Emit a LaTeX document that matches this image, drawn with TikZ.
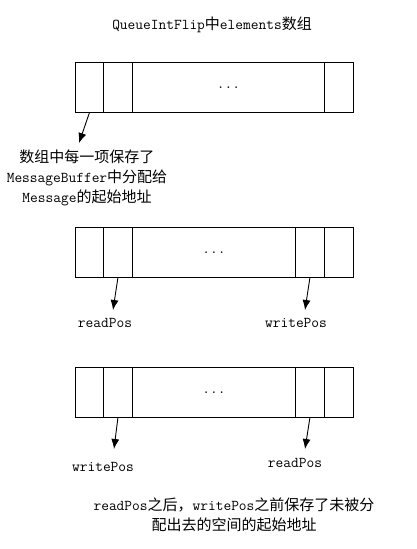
\documentclass[tikz,border=0pt]{standalone}
\usepackage{fontspec}
\newfontfamily\cjk{Noto Sans CJK SC}
\newcommand{\zh}[1]{{\cjk\fontsize{15}{20}\selectfont #1}}
\usetikzlibrary{arrows.meta}
\begin{document}
\begin{tikzpicture}[x=1pt,y=-1pt,
  cell/.style={draw, line width=0.8pt, rectangle, inner sep=0pt, minimum height=50pt, anchor=north west},
  arr/.style={draw, line width=0.9pt, -{Latex[length=10pt,width=8pt]}},
  lbl/.style={inner sep=0pt, font=\ttfamily\fontsize{15}{20}\selectfont, align=center}]
\useasboundingbox[fill=white] (0,0) rectangle (417,549);

\node[lbl] (title) at (212,25) {QueueIntFlip\zh{中}elements\zh{数组}};

% array 1
\node[cell, minimum width=28pt] (a1) at (75,62) {};
\node[cell, minimum width=29pt] (a2) at (103,62) {};
\node[cell, minimum width=192pt] (a3) at (132,62) {};
\node[cell, minimum width=29pt] (a4) at (324,62) {};
\node[lbl] (ad) at (a3.center) {...};

% array 2
\node[cell, minimum width=28pt] (b1) at (75,227) {};
\node[cell, minimum width=29pt] (b2) at (103,227) {};
\node[cell, minimum width=163pt] (b3) at (132,227) {};
\node[cell, minimum width=29pt] (b4) at (295,227) {};
\node[cell, minimum width=29pt] (b5) at (324,227) {};
\node[lbl] (bd) at (b3.center) {...};

% array 3
\node[cell, minimum width=28pt] (c1) at (75,367) {};
\node[cell, minimum width=29pt] (c2) at (103,367) {};
\node[cell, minimum width=163pt] (c3) at (132,367) {};
\node[cell, minimum width=29pt] (c4) at (295,367) {};
\node[cell, minimum width=29pt] (c5) at (324,367) {};
\node[lbl] (cd) at (c3.center) {...};

% labels
\node[lbl] (t1) at (87,178) {\zh{数组中每一项保存了}\\MessageBuffer\zh{中分配给}\\Message\zh{的起始地址}};
\node[lbl] (r2) at (105,323) {readPos};
\node[lbl] (w2) at (296,323) {writePos};
\node[lbl] (w3) at (103,467) {writePos};
\node[lbl] (r3) at (295,463) {readPos};
\node[lbl] (t2) at (234,515) {readPos\zh{之后，}writePos\zh{之前保存了未被分}\\\zh{配出去的空间的起始地址}};

% arrow tips
\coordinate (p1) at (79,143);
\coordinate (p2) at (113,310);
\coordinate (p3) at (305,310);
\coordinate (p4) at (114,449);
\coordinate (p5) at (305,449);

\draw[arr] (a1.south) -- (p1);
\draw[arr] (b2.south) -- (p2);
\draw[arr] (b4.south) -- (p3);
\draw[arr] (c2.south) -- (p4);
\draw[arr] (c4.south) -- (p5);
\end{tikzpicture}
\end{document}
